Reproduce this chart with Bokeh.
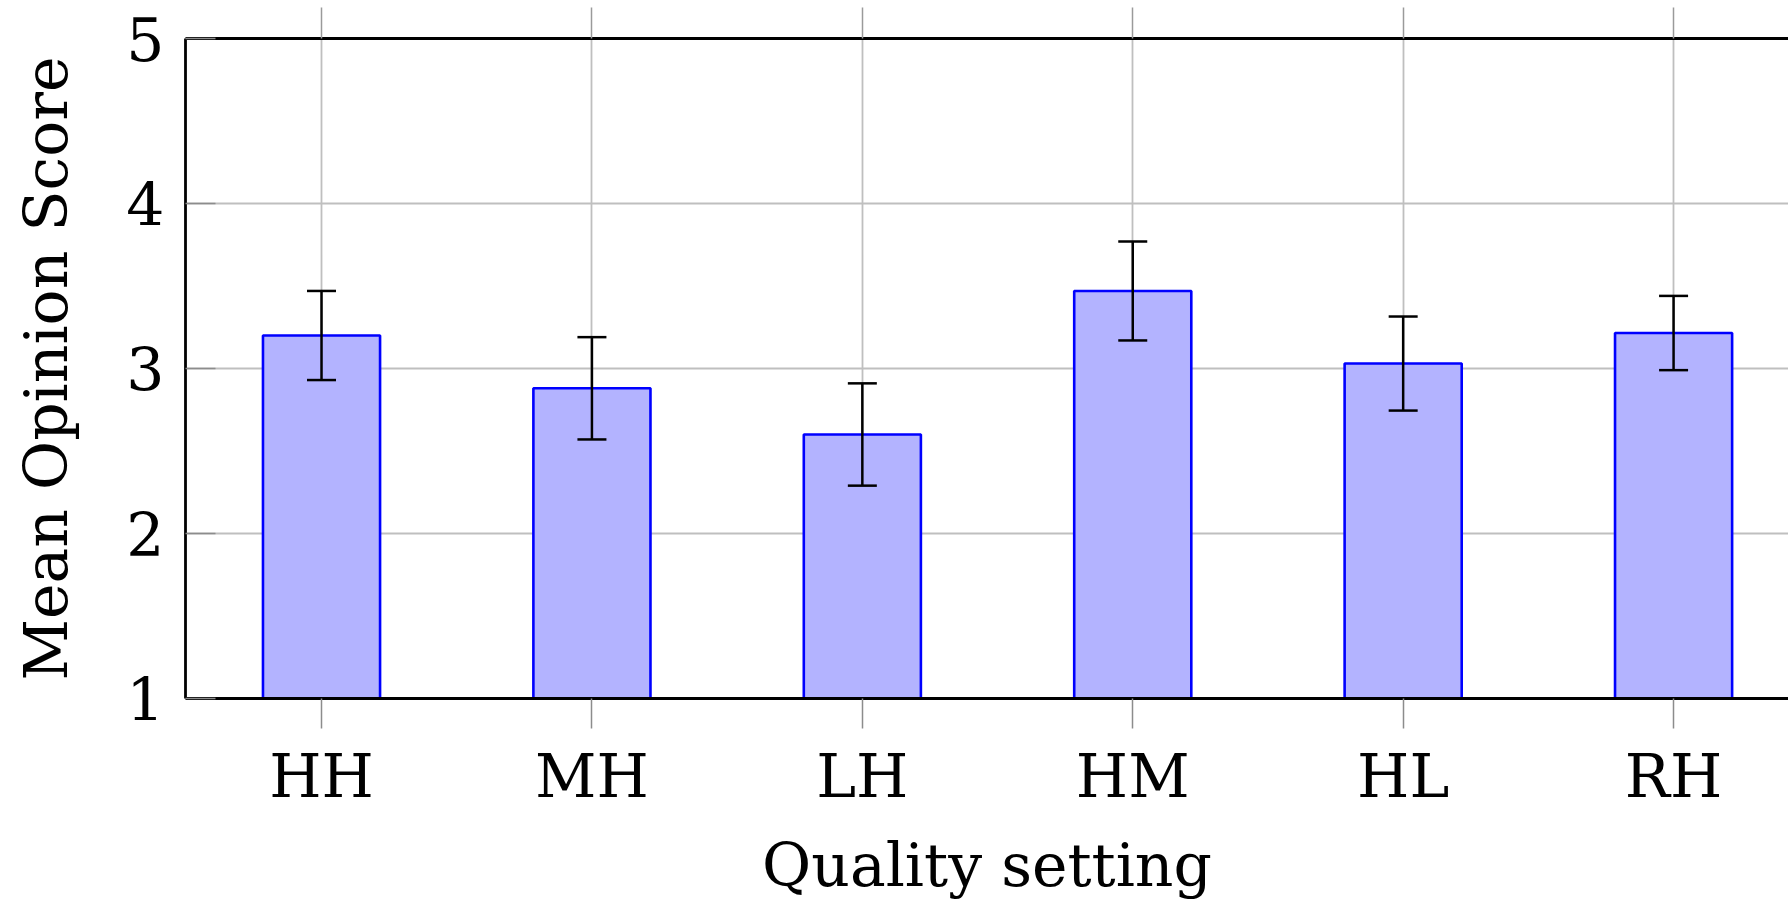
from bokeh.plotting import figure
from bokeh.models import Range1d, FixedTicker, LinearAxis, Whisker, ColumnDataSource, TeeHead
from bokeh.embed import file_html
from bokeh.resources import INLINE

categories = ["HH", "MH", "LH", "HM", "HL", "RH"]
mos = [3.20, 2.88, 2.60, 3.47, 3.03, 3.215]
err = [0.27, 0.31, 0.31, 0.30, 0.285, 0.225]
y_ticks = [1, 2, 3, 4, 5]

xpos = list(range(len(categories)))
src = ColumnDataSource(dict(
    x=xpos, top=mos,
    upper=[m + e for m, e in zip(mos, err)],
    lower=[m - e for m, e in zip(mos, err)],
))

FONT = "DejaVu Serif"
p = figure(width=1788, height=902, output_backend="svg", toolbar_location=None,
           x_range=Range1d(-0.503, 5.425), y_range=Range1d(1, 5),
           min_border_left=185, min_border_top=38, min_border_right=0, min_border_bottom=10)
p.outline_line_color = None
p.background_fill_color = "white"

p.vbar(x="x", top="top", bottom=1, width=0.433, source=src,
       fill_color="#b3b3ff", line_color="#0000ff", line_width=2.6)

w = Whisker(base="x", upper="upper", lower="lower", source=src, level="overlay",
            line_color="black", line_width=2.5,
            upper_head=TeeHead(size=29, line_color="black", line_width=2.5),
            lower_head=TeeHead(size=29, line_color="black", line_width=2.5))
p.add_layout(w)

xt = FixedTicker(ticks=xpos)
yt = FixedTicker(ticks=y_ticks)

xa = p.xaxis[0]
xa.ticker = xt
xa.major_label_overrides = {i: c for i, c in enumerate(categories)}
xa.axis_line_color = "black"
xa.axis_line_width = 2.8
xa.major_tick_out = 30
xa.major_tick_in = 0
xa.major_tick_line_color = "#8c8c8c"
xa.major_tick_line_width = 1.5
xa.minor_tick_line_color = None
xa.major_label_text_font = FONT
xa.major_label_text_font_size = "60px"
xa.major_label_text_color = "black"
xa.major_label_standoff = 12
xa.axis_label = "Quality setting"
xa.axis_label_text_font = FONT
xa.axis_label_text_font_size = "60px"
xa.axis_label_text_font_style = "normal"
xa.axis_label_text_color = "black"
xa.axis_label_standoff = 16

ya = p.yaxis[0]
ya.ticker = yt
ya.axis_line_color = "black"
ya.axis_line_width = 2.8
ya.major_tick_out = 0
ya.major_tick_in = 30
ya.major_tick_line_color = "#8c8c8c"
ya.major_tick_line_width = 1.5
ya.minor_tick_line_color = None
ya.major_label_text_font = FONT
ya.major_label_text_font_size = "60px"
ya.major_label_text_color = "black"
ya.major_label_standoff = 21
ya.axis_label = "Mean Opinion Score"
ya.axis_label_text_font = FONT
ya.axis_label_text_font_size = "60px"
ya.axis_label_text_font_style = "normal"
ya.axis_label_text_color = "black"
ya.axis_label_standoff = 42

top = LinearAxis(ticker=xt, axis_line_color="black", axis_line_width=2.8,
                 major_tick_out=31, major_tick_in=0, major_tick_line_color="#9a9a9a",
                 major_tick_line_width=1.5, minor_tick_line_color=None,
                 major_label_overrides={i: "" for i in xpos},
                 major_label_text_font_size="1px", major_label_standoff=0)
p.add_layout(top, "above")

p.xgrid.ticker = xt
p.ygrid.ticker = yt
p.grid.grid_line_color = "#bfbfbf"
p.grid.grid_line_width = 1.8
p.grid.level = "underlay"

open("out.html", "w").write(file_html(p, INLINE))
